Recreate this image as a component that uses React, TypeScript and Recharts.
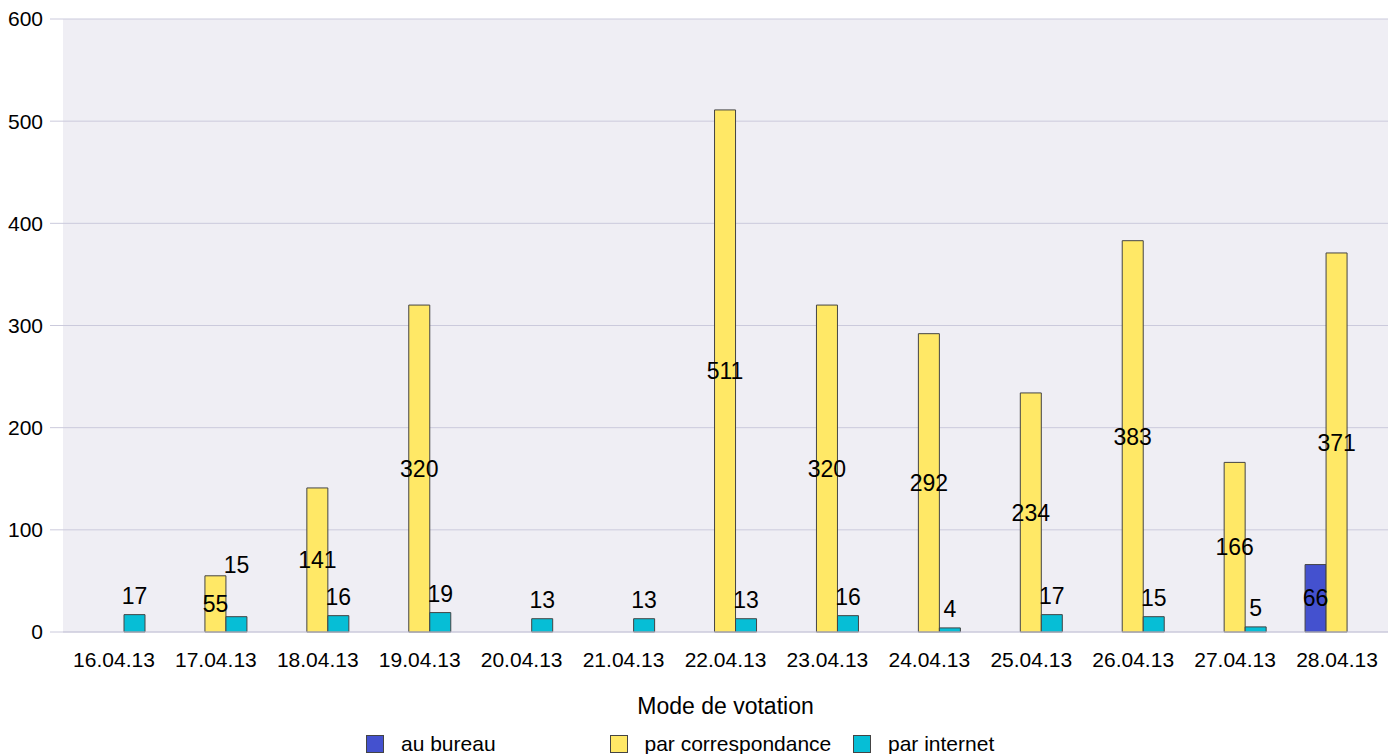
import React from 'react';
import { BarChart, Bar, XAxis, YAxis, CartesianGrid, Legend, LabelList } from 'recharts';

const dates = ['16.04.13', '17.04.13', '18.04.13', '19.04.13', '20.04.13', '21.04.13', '22.04.13', '23.04.13', '24.04.13', '25.04.13', '26.04.13', '27.04.13', '28.04.13'];
const auBureau: (number | null)[] = [null, null, null, null, null, null, null, null, null, null, null, null, 66];
const parCorrespondance: (number | null)[] = [null, 55, 141, 320, null, null, 511, 320, 292, 234, 383, 166, 371];
const parInternet: (number | null)[] = [17, 15, 16, 19, 13, 13, 13, 16, 4, 17, 15, 5, null];
const yTicks = [0, 100, 200, 300, 400, 500, 600];

const seriesNames = ['au bureau', 'par correspondance', 'par internet'];
const seriesColors = ['#4451cf', '#ffe866', '#06bed6'];

const data = dates.map((d, i) => ({
  date: d,
  bureau: auBureau[i],
  corr: parCorrespondance[i],
  internet: parInternet[i],
}));

const FONT = 'Liberation Sans, Arial, sans-serif';
const GRID = '#cbcadc';

const InternetLabel = (props: any) => {
  const { x, y, width, height, value, index } = props;
  if (value === null || value === undefined) return null;
  const cx = x + width / 2;
  const bottom = y + height;
  let baseline = y - 11;
  const corr = parCorrespondance[index];
  if (corr != null && value > 0) {
    const pxPerUnit = height / value;
    const yellowTop = bottom - corr * pxPerUnit;
    const yellowCenter = (yellowTop + bottom) / 2;
    const labelCenter = baseline - 8;
    if (Math.abs(yellowCenter - labelCenter) < 22) {
      baseline = yellowTop - 3;
    }
  }
  return (
    <text x={cx} y={baseline} textAnchor="middle" fontSize={23} fill="#000" fontFamily={FONT}>
      {value}
    </text>
  );
};

const LegendContent = () => (
  <div style={{ display: 'flex', boxSizing: 'border-box', paddingLeft: 366, paddingTop: 6, height: 26, alignItems: 'center', fontFamily: FONT, fontSize: 21 }}>
    {seriesNames.map((n, i) => (
      <div key={n} style={{ width: 243.5, display: 'flex', alignItems: 'center' }}>
        <span style={{ display: 'inline-block', width: 16, height: 16, background: seriesColors[i], border: '1px solid #444', marginRight: 17 }} />
        <span style={{ color: '#000' }}>{n}</span>
      </div>
    ))}
  </div>
);

export default function App() {
  return (
    <div style={{ position: 'absolute', left: 0, top: 0, background: '#fff' }}>
      <BarChart
        width={1395}
        height={754}
        data={data}
        margin={{ top: 19, right: 7, left: 0, bottom: 0 }}
        barSize={21}
        barGap={0}
        style={{ fontFamily: FONT }}
      >
        <CartesianGrid vertical={false} stroke={GRID} fill="#efeef4" />
        <XAxis
          dataKey="date"
          height={96}
          tickLine={false}
          axisLine={{ stroke: GRID }}
          tickMargin={14}
          interval={0}
          tick={{ fontSize: 21, fill: '#000', fontFamily: FONT }}
          label={{ value: 'Mode de votation', position: 'insideBottom', offset: 14, fontSize: 23, fill: '#000', fontFamily: FONT }}
        />
        <YAxis
          width={63}
          domain={[0, 600]}
          ticks={yTicks}
          axisLine={false}
          tickLine={{ stroke: GRID }}
          tickSize={13}
          tickMargin={7}
          tick={{ fontSize: 21, fill: '#000', fontFamily: FONT }}
        />
        <Legend verticalAlign="bottom" content={<LegendContent />} wrapperStyle={{ left: 0, width: 1395, height: 26 }} />
        <Bar dataKey="bureau" name={seriesNames[0]} fill={seriesColors[0]} stroke="#444" strokeWidth={1} isAnimationActive={false}>
          <LabelList dataKey="bureau" position="center" fontSize={23} fill="#000" fontFamily={FONT} />
        </Bar>
        <Bar dataKey="corr" name={seriesNames[1]} fill={seriesColors[1]} stroke="#444" strokeWidth={1} isAnimationActive={false}>
          <LabelList dataKey="corr" position="center" fontSize={23} fill="#000" fontFamily={FONT} />
        </Bar>
        <Bar dataKey="internet" name={seriesNames[2]} fill={seriesColors[2]} stroke="#444" strokeWidth={1} isAnimationActive={false}>
          <LabelList dataKey="internet" content={<InternetLabel />} />
        </Bar>
      </BarChart>
    </div>
  );
}
